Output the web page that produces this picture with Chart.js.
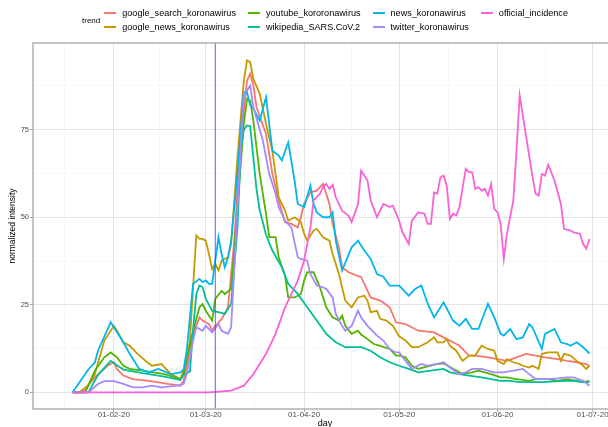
<!DOCTYPE html>
<html>
<head>
<meta charset="utf-8">
<script src="https://cdn.jsdelivr.net/npm/chart.js@4.4.1/dist/chart.umd.min.js"></script>
<style>
  html, body { margin: 0; padding: 0; background: #fff; overflow: hidden; }
  #wrap { position: relative; width: 608px; height: 427px; overflow: hidden; background: #fff; }
  #c { position: absolute; left: 0; top: 0; }
  #legend { position: absolute; left: 82px; top: 6px; display: flex; align-items: center;
            font-family: 'Liberation Sans', Arial, sans-serif; color: #000; }
  #legendTitle { font-size: 8px; margin-right: 4px; }
  #legendItems { display: grid; grid-auto-flow: column; grid-template-rows: 14px 14px; column-gap: 12px; font-size: 9.1px; }
  .item { display: flex; align-items: center; white-space: nowrap; line-height: 14px; }
  .key { display: inline-block; width: 12px; height: 2px; margin-right: 6px; }
</style>
</head>
<body>
<div id="wrap">
  <canvas id="c" width="630" height="427"></canvas>
  <div id="legend"><div id="legendTitle">trend</div><div id="legendItems"></div></div>
</div>
<script>
// ---- DATA (x = days counted from 2020-02-01) ----
const DAY0 = '2020-02-01';
const xTickDays   = [0, 29, 60, 90, 121, 151];
const xTickLabels = ['01-02-20', '01-03-20', '01-04-20', '01-05-20', '01-06-20', '01-07-20'];
const xMinorDays  = [-15.5, 14.5, 44.5, 75, 105.5, 136];
const yTickValues = [0, 25, 50, 75];
const yMinorValues = [12.5, 37.5, 62.5, 87.5];
const firstCaseDay = 32; // 2020-03-04

const seriesNames  = ['google_search_koronawirus', 'google_news_koronawirus', 'youtube_kororonawirus',
                      'wikipedia_SARS.CoV.2', 'news_koronawirus', 'twitter_koronawirus', 'official_incidence'];
const seriesColors = ['#F8766D', '#C49A00', '#53B400', '#00C094', '#00B6EB', '#A58AFF', '#FB61D7'];

const googleSearchDays = [-13,-10,-6,-2,0,1,3,6,11,17,21,22,25,27,28,30,31,32,34,36,38,40,42,43,44,45,48,50,52,54,56,58,59,60,62,64,66,68,69,71,72,74,78,79,81,84,87,89,92,96,101,104,107,109,112,114,118,121,124,127,130,133,136,140,143,146,149,150];
const googleSearchValues = [0,0,4.3,7.6,8.6,6.7,4.8,3.8,3.3,2.4,1.9,3.3,16.7,21.4,20.5,19.5,17.6,19,20.9,24.3,43.3,71.9,89,91,87.6,81.4,73.8,62.4,54.8,48.6,48.1,47.1,50,53.8,57.1,57.6,59.5,53.8,48.1,41.4,35.7,34.3,32.9,31,27.1,26.2,24.3,20,19.5,17.6,17.1,15.7,14.3,13.3,10.5,10.5,10,9.5,9,10,11,10.5,10,9.5,9,8.6,8.1,7.6];

const googleNewsDays = [-13,-11,-8,-6,-3,0,1,3,5,7,10,12,15,18,20,21,23,24,25,26,27,28,29,30,31,32,33,34,36,37,39,41,42,43,44,46,48,50,52,54,55,57,59,60,61,63,64,66,68,69,71,73,75,77,79,80,81,83,84,86,88,90,92,94,96,99,101,102,104,105,106,108,110,112,114,116,118,120,121,123,124,126,128,129,131,132,134,135,137,140,141,142,144,146,148,149,150];
const googleNewsValues = [0,0,2,5.2,14.8,19,17.6,14.3,13.3,11.4,9,7.6,8.1,5.2,4.3,3.8,9,15,30,44.8,43.8,43.8,43.3,39.5,35.2,36.7,34.8,37.6,38.6,42.4,67.1,89,94.8,94.3,89.5,85.3,76.7,69,55.7,51.9,49,50,48.6,45.3,43.3,46.2,46.7,44.3,43.3,39.5,33.8,26.2,24.3,27.1,27.6,26.2,22.9,23.3,21,20.5,19,16,14.8,12.9,12.9,14.3,15.7,14.3,14.3,15.2,13.3,11.9,9,10.5,10.5,13.3,12.4,11.9,9,8.1,9.5,8.6,8.1,7.6,7.1,7.6,6.7,11,11.4,11.4,9,11,10.5,9,7.6,6.7,7.6];

const youtubeDays = [-13,-9,-6,-3,-1,1,3,5,9,16,21,22,25,27,28,29,31,32,34,35,37,39,41,42,43,44,46,48,49,51,52,54,55,57,59,60,61,63,65,67,69,71,72,73,75,77,78,80,82,84,87,89,90,92,94,96,100,102,104,107,110,113,115,119,122,124,127,131,133,137,140,143,146,148,150];
const youtubeValues = [0,0,6.2,10,11.4,10,7.6,6.7,6.2,5.2,3.8,5.2,17.6,24.3,25.2,23.3,20.5,26.7,29,28.1,29.5,52.9,76.7,83.8,83.3,77.6,62.4,51,44.3,44.3,38.6,33.3,27.1,27.1,28.1,31.9,34.3,34.3,30,24.3,21.4,20.5,21.9,19,16.7,17.6,16.5,15.2,13.8,13.3,12.4,10.5,10.5,10,7.6,6.7,7.6,8.1,8.3,6.7,5.2,5.7,6.2,5.2,4.3,4.3,3.8,3.3,3.8,3.8,3.3,3.8,3.3,2.9,3.3];

const wikipediaDays = [-13,-8,-5,-1,3,9,16,21,22,24,25,26,27,28,29,31,33,35,37,39,40,41,42,43,44,45,46,48,50,53,55,58,61,64,67,70,73,78,81,84,87,90,93,96,100,104,106,109,112,116,119,122,125,128,135,142,145,148,150];
const wikipediaValues = [0,0,5,9,6.5,5.5,4.5,3.5,5,6,18,28,30.5,30,26.7,23.3,22.9,22.4,25.3,47.1,69,75,76.2,76,67,58,52,45,40.5,35.7,31,28.1,24.3,20.5,16.7,14.3,12.9,12.9,11.9,10,8.6,7.6,6.7,5.7,6.2,6.7,5.7,5.2,4.8,4.3,3.8,3.3,3.3,2.9,2.9,3.3,3.3,2.9,2.9];

const newsDays = [-13,-8,-6,-5,-1,0,3,5,8,11,14,18,21,22,23,25,27,28,29,30,31,33,34,35,36,37,39,41,42,43,44,46,48,50,52,53,55,57,58,60,62,63,64,66,68,69,70,72,75,77,79,81,83,85,87,90,93,95,97,99,101,104,107,109,111,113,115,118,120,122,123,125,127,129,131,132,135,136,139,141,143,144,146,148,150];
const newsValues = [0,6.6,8.5,11.9,20,18.6,14.3,11,6.7,5.7,6.7,5.2,5.7,6.5,12,31,32.4,31.5,31.9,31,31,44.3,39.5,35.7,38.6,43.3,62.4,85.7,85.7,82,81,77.6,84.3,69,67.6,66.2,71.4,60.5,53.8,52.9,59,53.8,51.4,50,50,51.4,43.3,34.8,41.4,43.3,40.5,38.1,33.8,33,30.5,30.5,27.6,29.5,30.5,25.3,21.4,25.7,20.5,19,21,18.1,18.1,25.3,21.4,16.7,16.2,18.1,15.2,15.7,19.5,18.6,12.4,16.7,18.1,14.3,13.8,13.3,14.3,12.9,11.1];

const twitterDays = [-13,-8,-5,-3,0,3,6,9,12,15,20,22,23,25,26,28,29,31,33,34,36,37,39,41,42,43,44,47,49,51,52,54,56,58,59,61,62,64,66,67,69,70,72,73,75,77,78,80,83,85,87,89,90,92,94,97,99,102,104,106,109,111,113,116,118,120,123,126,129,131,133,137,140,143,145,148,150];
const twitterValues = [0,0,2.4,3.2,3.2,2.4,1.4,1.4,1.9,1.4,1.9,2.4,5.2,14.8,18.6,17.6,19,17.1,19.5,17.6,16.7,18.6,52.9,85.7,86.2,87.6,81.4,71.9,62.4,56.7,52.9,49,47.1,38.6,38.1,37.6,33.8,30.5,30,29.5,27.1,22.4,19,17.6,19,23.3,21.4,19,16.2,14.8,12.4,11.4,11.4,9,6.7,8.1,7.6,8.1,8.6,7.1,5.2,5.7,6.7,6.7,6.2,5.7,5.7,6.2,6.7,5.2,3.8,3.8,4,4.3,4.3,3.3,1.9];

const officialDays = [-13,30,37,41,44,48,51,54,58,60,62,63,65,66,67,68,69,70,72,74,75,77,78,80,81,83,85,87,88,90,91,93,94,96,98,99,100,101,102,103,104,105,106,107,108,109,111,112,113,114,115,116,117,118,119,120,121,122,123,124,126,127,128,130,131,132,133,134,135,136,137,139,141,142,144,145,147,148,149,150];
const officialValues = [0,0,0.5,1.9,5.2,11,16.7,24.3,31.9,37.6,47.1,54.8,56.7,58.6,59.5,58.1,59.3,55.7,51.9,50.5,48.6,53.8,63.3,60.5,54.8,50,53.8,52.9,53.3,49,45.7,42.4,49,51.4,51,48.1,48.1,57.1,56.7,61.4,61.9,59,49.5,51,50.5,52.9,63.8,62.9,62.9,58.1,58.6,57.6,58.1,56.2,59.5,52.4,51.4,48.1,38.1,45.3,54.8,69,84.8,73.3,67.6,61.9,56.7,56.2,62.4,61.9,65,60.5,53.8,46.7,46.2,45.7,45.3,42.4,41,43.8];

const seriesDays   = [googleSearchDays, googleNewsDays, youtubeDays, wikipediaDays, newsDays, twitterDays, officialDays];
const seriesValues = [googleSearchValues, googleNewsValues, youtubeValues, wikipediaValues, newsValues, twitterValues, officialValues];

// ---- CHART ----
const X_MIN = -25.5, X_MAX = 158.7, Y_MIN = -4.75, Y_MAX = 99.75;
const FONT = "'Liberation Sans', Arial, Helvetica, sans-serif";
Chart.defaults.font.family = FONT;

const datasets = seriesNames.map((name, i) => {
  const n = Math.min(seriesDays[i].length, seriesValues[i].length);
  const pts = [];
  for (let k = 0; k < n; k++) pts.push({ x: seriesDays[i][k], y: seriesValues[i][k] });
  return {
    label: name, data: pts, borderColor: seriesColors[i], backgroundColor: seriesColors[i],
    borderWidth: 1.8, pointRadius: 0, tension: 0, fill: false, order: seriesNames.length - i
  };
});
datasets.push({
  label: 'first_case', data: [{ x: firstCaseDay, y: Y_MIN }, { x: firstCaseDay, y: Y_MAX }],
  borderColor: 'rgba(60,60,255,0.75)', borderWidth: 1.1, pointRadius: 0, fill: false, order: -1
});

const panelBorder = {
  id: 'panelBorder',
  afterDatasetsDraw(chart) {
    const { ctx, chartArea: a } = chart;
    ctx.save();
    ctx.strokeStyle = '#ABABAB';
    ctx.lineWidth = 1.4;
    ctx.strokeRect(a.left, a.top, a.right - a.left, a.bottom - a.top);
    ctx.restore();
  }
};

const isMajorX = v => xTickDays.includes(v);
const isMajorY = v => yTickValues.includes(v);

new Chart(document.getElementById('c'), {
  type: 'line',
  data: { datasets },
  plugins: [panelBorder],
  options: {
    responsive: false, animation: false, devicePixelRatio: 1,
    layout: { padding: { top: 43, right: 13, bottom: 0, left: 0 } },
    plugins: { legend: { display: false }, tooltip: { enabled: false } },
    scales: {
      x: {
        type: 'linear', min: X_MIN, max: X_MAX,
        afterBuildTicks: s => {
          s.ticks = [...xMinorDays, ...xTickDays].filter(v => v >= X_MIN && v <= X_MAX)
            .sort((a, b) => a - b).map(v => ({ value: v }));
        },
        afterFit: s => { s.height = 18; },
        border: { display: false },
        grid: {
          color: c => isMajorX(c.tick.value) ? '#E3E3E3' : '#F1F1F1',
          lineWidth: c => isMajorX(c.tick.value) ? 1 : 0.6,
          tickColor: c => isMajorX(c.tick.value) ? '#ABABAB' : 'rgba(0,0,0,0)',
          tickLength: 3, drawTicks: true
        },
        ticks: {
          autoSkip: false, maxRotation: 0, padding: -1, color: '#4D4D4D',
          font: { size: 8, lineHeight: 1 },
          callback: v => { const i = xTickDays.indexOf(v); return i >= 0 ? xTickLabels[i] : ''; }
        },
        title: { display: true, text: 'day', color: '#000', padding: 0, font: { size: 9, lineHeight: 0.8 } }
      },
      y: {
        type: 'linear', min: Y_MIN, max: Y_MAX,
        afterBuildTicks: s => {
          s.ticks = [...yMinorValues, ...yTickValues].filter(v => v >= Y_MIN && v <= Y_MAX)
            .sort((a, b) => a - b).map(v => ({ value: v }));
        },
        afterFit: s => { s.width = 33; },
        border: { display: false },
        grid: {
          color: c => isMajorY(c.tick.value) ? '#E3E3E3' : '#F1F1F1',
          lineWidth: c => isMajorY(c.tick.value) ? 1 : 0.6,
          tickColor: c => isMajorY(c.tick.value) ? '#ABABAB' : 'rgba(0,0,0,0)',
          tickLength: 3, drawTicks: true
        },
        ticks: {
          autoSkip: false, padding: 1, color: '#4D4D4D', font: { size: 7.5, lineHeight: 1 },
          callback: v => isMajorY(v) ? String(v) : ''
        },
        title: { display: true, text: 'normalized intensity', color: '#000',
                 padding: { top: 8, bottom: 0 }, font: { size: 8.5, lineHeight: 1.2 } }
      }
    }
  }
});

// ---- LEGEND (ggplot-style, column-major, two rows) ----
const legendItems = document.getElementById('legendItems');
seriesNames.forEach((name, i) => {
  const item = document.createElement('div');
  item.className = 'item';
  const key = document.createElement('span');
  key.className = 'key';
  key.style.background = seriesColors[i];
  const txt = document.createElement('span');
  txt.textContent = name;
  item.appendChild(key); item.appendChild(txt);
  legendItems.appendChild(item);
});
</script>
</body>
</html>
